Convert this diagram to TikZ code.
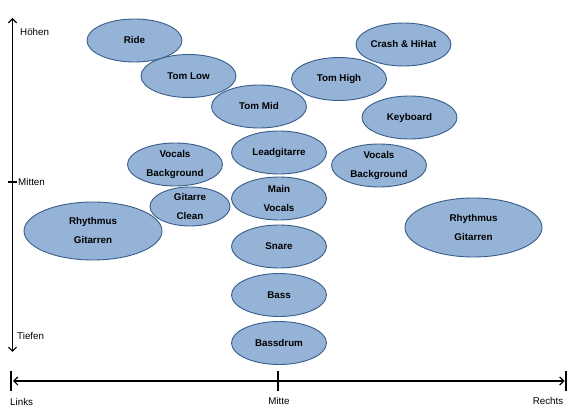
\documentclass[tikz,border=0pt]{standalone}
\usepackage{fontspec}
\setmainfont{Liberation Sans}
\usetikzlibrary{shapes.geometric,arrows.meta}
\definecolor{fillblue}{HTML}{95B3D7}
\definecolor{edgeblue}{HTML}{385D8A}
\tikzset{
  inst/.style={ellipse, draw=edgeblue, fill=fillblue, line width=0.9pt, inner sep=0pt,
    minimum width=95pt, minimum height=43pt, align=center,
    font={\bfseries\fontsize{9.8}{19}\selectfont}},
  axis/.style={line width=1.2pt, black},
  axlabel/.style={font={\fontsize{9.8}{12}\selectfont}, inner sep=0pt},
  barb/.tip={Straight Barb[length=4pt,width=8pt,line width=1.2pt]}
}
\begin{document}
\begin{tikzpicture}[x=1pt,y=-1pt]
\useasboundingbox (0,0) rectangle (587,419);
% axes
\coordinate (vtop) at (12.5,18);
\coordinate (vbot) at (12.5,352);
\coordinate (vmid) at (12.5,182);
\coordinate (hl) at (11,381);
\coordinate (hr) at (566,381);
\coordinate (hm) at (278,381);
\draw[axis,barb-barb] (vtop) -- (vbot);
\draw[axis] ([xshift=-4.5pt]vmid) -- ([xshift=4.5pt]vmid);
\draw[axis,barb-barb] ([xshift=2pt]hl) -- ([xshift=-1.5pt]hr);
\draw[axis] ([yshift=-10pt]hl) -- ([yshift=10pt]hl);
\draw[axis] ([yshift=-10pt]hr) -- ([yshift=10pt]hr);
\draw[axis] ([yshift=-10pt]hm) -- ([yshift=10pt]hm);
\node[axlabel,anchor=west] (hoehen) at (20,32) {Höhen};
\node[axlabel,anchor=west] (mitten) at (18,182) {Mitten};
\node[axlabel,anchor=west] (tiefen) at (17,336) {Tiefen};
\node[axlabel,anchor=west] (links) at (10,402) {Links};
\node[axlabel] (mitte) at (279,401) {Mitte};
\node[axlabel] (rechts) at (548,401) {Rechts};
% instruments
\node[inst] (ride) at (134.5,40.5) {Ride};
\node[inst] (tomlow) at (188.5,76) {Tom Low};
\node[inst] (crash) at (403.5,44.5) {Crash \& HiHat};
\node[inst] (tomhigh) at (339,79) {Tom High};
\node[inst] (tommid) at (259,106.5) {Tom Mid};
\node[inst] (keyboard) at (409.5,117.5) {Keyboard};
\node[inst] (lead) at (279,152.5) {Leadgitarre};
\node[inst] (vocl) at (175,164.5) {Vocals\\Background};
\node[inst] (vocr) at (379,165.5) {Vocals\\Background};
\node[inst,minimum width=80pt,minimum height=39pt] (gitclean) at (190,206.5) {Gitarre\\Clean};
\node[inst] (main) at (279,198.5) {Main\\Vocals};
\node[inst,minimum width=138pt,minimum height=58pt] (rhyl) at (93,231) {Rhythmus\\Gitarren};
\node[inst,minimum width=137pt,minimum height=59pt] (rhyr) at (473.5,227.5) {Rhythmus\\Gitarren};
\node[inst] (snare) at (279,246.5) {Snare};
\node[inst] (bass) at (279,295) {Bass};
\node[inst] (bassdrum) at (279,343) {Bassdrum};
\end{tikzpicture}
\end{document}
